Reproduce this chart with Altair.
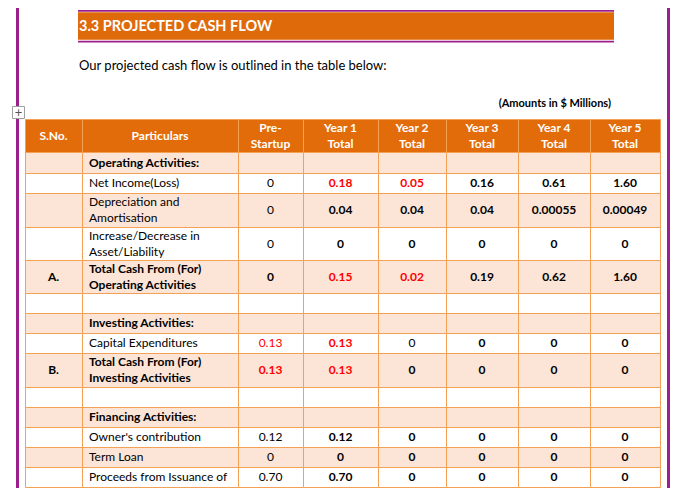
import altair as alt
import pandas as pd

# ---------------- data ----------------
title = "3.3 PROJECTED CASH FLOW"
intro = "Our projected cash flow is outlined in the table below:"
units = "(Amounts in $ Millions)"

headers = ["S.No.", "Particulars", "Pre-\nStartup", "Year 1\nTotal", "Year 2\nTotal",
           "Year 3\nTotal", "Year 4\nTotal", "Year 5\nTotal"]
sno = ["", "", "", "", "A.", "", "", "", "B.", "", "", "", "", ""]
particulars = ["Operating Activities:", "Net Income(Loss)", "Depreciation and\nAmortisation",
               "Increase/Decrease in\nAsset/Liability", "Total Cash From (For)\nOperating Activities",
               "", "Investing Activities:", "Capital Expenditures",
               "Total Cash From (For)\nInvesting Activities", "", "Financing Activities:",
               "Owner's contribution", "Term Loan", "Proceeds from Issuance of"]
pre_startup = ["", "0", "0", "0", "0", "", "", "0.13", "0.13", "", "", "0.12", "0", "0.70"]
year1 = ["", "0.18", "0.04", "0", "0.15", "", "", "0.13", "0.13", "", "", "0.12", "0", "0.70"]
year2 = ["", "0.05", "0.04", "0", "0.02", "", "", "0", "0", "", "", "0", "0", "0"]
year3 = ["", "0.16", "0.04", "0", "0.19", "", "", "0", "0", "", "", "0", "0", "0"]
year4 = ["", "0.61", "0.00055", "0", "0.62", "", "", "0", "0", "", "", "0", "0", "0"]
year5 = ["", "1.60", "0.00049", "0", "1.60", "", "", "0", "0", "", "", "0", "0", "0"]
# cells shown in red (row, column)
red_cells = [(1, 3), (1, 4), (4, 3), (4, 4), (7, 2), (7, 3), (8, 2), (8, 3)]
bold_rows = [0, 4, 6, 8, 10]       # section titles and totals
total_rows = [4, 8]
regular_cells = [(7, 4)]           # exceptions in the bold year columns

# ---------------- layout ----------------
W, H = 672, 480
X0, Y0 = 8, 8
col_edges = [25, 82, 238, 303, 378, 446, 518, 590, 660]
row_edges = [119, 152, 173, 193, 227, 260, 293, 313, 333, 353, 387, 407, 427, 447, 467, 487]

ORANGE = "#E36C0A"
PEACH = "#FCE4D6"
BORDER = "#F4A055"
PURPLE = "#9B1F8C"
RED = "#FF0000"
FONT = "Lato"

xs = alt.Scale(domain=[X0, X0 + W], range=[0, W], nice=False, zero=False)
ys = alt.Scale(domain=[Y0, Y0 + H], range=[0, H], nice=False, zero=False)

columns = [sno, particulars, pre_startup, year1, year2, year3, year4, year5]

# rectangles (cells)
rects = []
for r in range(len(row_edges) - 1):
    for c in range(len(col_edges) - 1):
        if r == 0:
            fill = ORANGE
        else:
            fill = PEACH if (r - 1) % 2 == 0 else "#FFFFFF"
        rects.append(dict(x=col_edges[c] + 0.5, x2=col_edges[c + 1] + 0.5,
                          y=row_edges[r] + 0.5, y2=row_edges[r + 1] + 0.5, fill=fill))
cells = pd.DataFrame(rects)

# texts
texts = []


def add_text(s, cx, r0, r1, color, weight, align, size=12):
    lines = s.split("\n")
    center = (r0 + r1) / 2
    if len(lines) == 1:
        ys_ = [center + 4.3]
    else:
        ys_ = [center - 3.7, center + 12.3]
    for line, yy in zip(lines, ys_):
        texts.append(dict(x=cx, y=yy, t=line, color=color, weight=weight, al=align, size=size))


for c, h in enumerate(headers):
    cx = (col_edges[c] + col_edges[c + 1]) / 2
    add_text(h, cx, row_edges[0], row_edges[1], "#FFFFFF", "bold", "center")

for r in range(len(particulars)):
    r0, r1 = row_edges[r + 1], row_edges[r + 2]
    for c, col in enumerate(columns):
        s = col[r]
        if not s:
            continue
        color = RED if (r, c) in red_cells else "#000000"
        if c <= 1:
            weight = "bold" if r in bold_rows else "normal"
        elif c == 2:
            weight = "bold" if r in total_rows else "normal"
        else:
            weight = "normal" if (r, c) in regular_cells else "bold"
        if c == 1:
            add_text(s, col_edges[1] + 7, r0, r1, color, weight, "left")
        else:
            add_text(s, (col_edges[c] + col_edges[c + 1]) / 2, r0, r1, color, weight, "center")

texts.append(dict(x=79, y=31, t=title, color="#FFFFFF", weight="bold", al="left", size=14.5))
texts.append(dict(x=79, y=70, t=intro, color="#000000", weight="normal", al="left", size=13))
texts.append(dict(x=611, y=106.5, t=units, color="#000000", weight="bold", al="right", size=11))
texts.append(dict(x=18.5, y=117, t="+", color="#555555", weight="normal", al="center", size=13))
tdf = pd.DataFrame(texts)

# decorations
deco = pd.DataFrame([
    dict(x=16, x2=19, y=8, y2=488, fill=PURPLE),
    dict(x=667, x2=670, y=8, y2=488, fill=PURPLE),
    dict(x=78, x2=614, y=10, y2=11.7, fill=PURPLE),
    dict(x=78, x2=614, y=12.3, y2=39.8, fill="#DF6A09"),
    dict(x=78, x2=614, y=40.8, y2=42.5, fill=PURPLE),
])
icon = pd.DataFrame([dict(x=12.5, x2=24.5, y=106.5, y2=118.5)])

enc_rect = dict(
    x=alt.X("x:Q", scale=xs, axis=None),
    x2="x2:Q",
    y=alt.Y("y:Q", scale=ys, axis=None),
    y2="y2:Q",
)

deco_layer = alt.Chart(deco).mark_rect().encode(fill=alt.Fill("fill:N", scale=None), **enc_rect)
icon_layer = alt.Chart(icon).mark_rect(fill="white", stroke="#A0A0A0", strokeWidth=1).encode(**enc_rect)
cell_layer = alt.Chart(cells).mark_rect(stroke=BORDER, strokeWidth=1).encode(
    fill=alt.Fill("fill:N", scale=None), **enc_rect)

text_layers = []
for align in ["left", "center", "right"]:
    for weight in ["normal", "bold"]:
        for size in sorted(tdf["size"].unique()):
            sub = tdf[(tdf["al"] == align) & (tdf["weight"] == weight) & (tdf["size"] == size)]
            if len(sub) == 0:
                continue
            text_layers.append(
                alt.Chart(sub).mark_text(align=align, baseline="alphabetic", font=FONT,
                                         fontWeight=weight, fontSize=float(size)).encode(
                    x=alt.X("x:Q", scale=xs, axis=None),
                    y=alt.Y("y:Q", scale=ys, axis=None),
                    text="t:N",
                    color=alt.Color("color:N", scale=None),
                )
            )

chart = alt.layer(deco_layer, icon_layer, cell_layer, *text_layers).properties(
    width=W, height=H, padding=0, autosize="none", background="white"
).configure_view(stroke=None)

chart.save("out.html", embed_options={"renderer": "svg", "actions": False})
